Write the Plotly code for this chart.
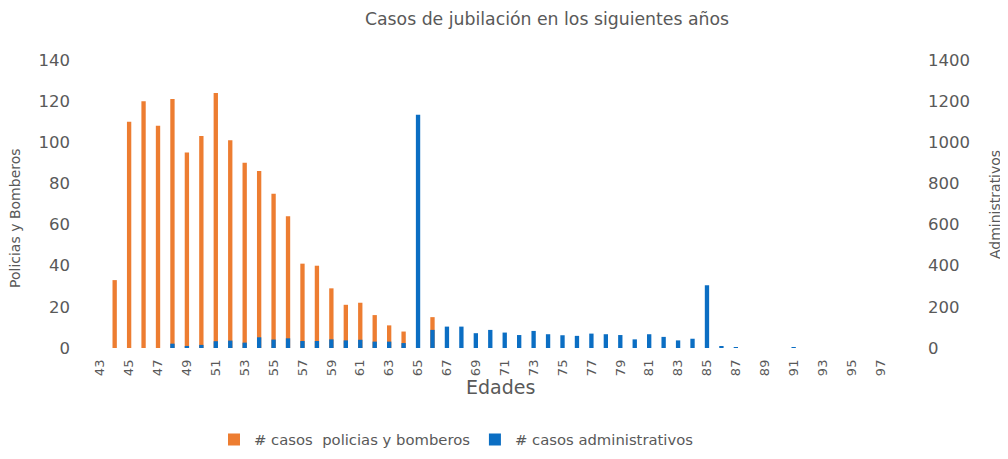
import plotly.graph_objects as go

ages = list(range(43, 99))
policias = [0, 33, 110, 120, 108, 121, 95, 103, 124, 101, 90, 86, 75, 64, 41, 40, 29, 21, 22, 16, 11, 8,
            0, 15] + [0] * 32
administrativos = [0, 0, 0, 0, 0, 21, 10, 15, 33, 36, 26, 52, 41, 47, 34, 34, 42, 37, 40, 31, 31, 24,
                   1134, 88, 104, 104, 72, 88, 75, 63, 83, 67, 62, 59, 70, 67, 63, 42, 67, 54, 37, 45,
                   305, 8, 4, 0, 0, 0, 3, 0, 0, 0, 0, 0, 0, 0]
tick_vals = list(range(43, 98, 2))
left_ticks = list(range(0, 141, 20))
right_ticks = list(range(0, 1401, 200))

ORANGE = "#ED7D31"
BLUE = "#0B6EC3"
GRAY = "#595959"
FONT = "DejaVu Sans"

# window geometry (the page body adds an 8px offset)
W, H = 1008, 459
OFF = 8
L, R, T, B = 93, 106, 60, 111
pw = W - L - R
ph = H - T - B
FW, FH = W - OFF, H - OFF


def px(xp):
    return (xp - L) / pw


def py(yp):
    return (H - B - yp) / ph


fig = go.Figure()
fig.add_trace(go.Bar(x=ages, y=policias, name="# casos \u00a0policias y bomberos",
                     marker=dict(color=ORANGE, line=dict(width=0)), width=0.3, yaxis="y"))
fig.add_trace(go.Bar(x=ages, y=administrativos, name="# casos administrativos",
                     marker=dict(color=BLUE, line=dict(width=0)), width=0.3, yaxis="y2"))

fig.update_layout(
    width=FW, height=FH,
    margin=dict(l=L - OFF, r=R, t=T - OFF, b=B, pad=0, autoexpand=False),
    paper_bgcolor="white", plot_bgcolor="white",
    barmode="overlay",
    font=dict(family=FONT, color=GRAY, size=13),
    title=dict(text="Casos de jubilación en los siguientes años", x=(547 - OFF) / FW, xanchor="center",
               yref="container", y=1 - (19 - OFF) / FH, yanchor="middle",
               font=dict(size=17.3, color=GRAY, family=FONT)),
    xaxis=dict(range=[42.5, 98.5], tickmode="array", tickvals=tick_vals, tickangle=-90,
               showgrid=False, zeroline=False, showline=False, ticks="", automargin=False,
               ticklabelstandoff=8, tickfont=dict(size=13, color=GRAY)),
    yaxis=dict(range=[0, 140], tickmode="array", tickvals=left_ticks, showgrid=False,
               zeroline=False, showline=False, ticks="", ticklabelstandoff=22, automargin=False,
               tickfont=dict(size=16.5, color=GRAY)),
    yaxis2=dict(range=[0, 1400], tickmode="array", tickvals=right_ticks, overlaying="y",
                side="right", showgrid=False, zeroline=False, showline=False, ticks="",
                ticklabelstandoff=25, automargin=False, tickfont=dict(size=16.5, color=GRAY)),
    legend=dict(orientation="h", x=px(214), xanchor="left",
                y=py(440), yanchor="middle",
                font=dict(size=14.8, color=GRAY), itemwidth=30, traceorder="normal"),
    showlegend=True,
    annotations=[
        dict(text="Edades", xref="paper", yref="paper", x=px(500), y=py(387),
             xanchor="center", yanchor="middle", showarrow=False,
             font=dict(size=19, color=GRAY)),
        dict(text="Policias y Bomberos", textangle=-90, xref="paper", yref="paper",
             x=px(15), y=py(218), xanchor="center", yanchor="middle",
             showarrow=False, font=dict(size=14, color=GRAY)),
        dict(text="Administrativos", textangle=-90, xref="paper", yref="paper",
             x=px(995), y=py(205), xanchor="center", yanchor="middle",
             showarrow=False, font=dict(size=14, color=GRAY)),
    ],
)

fig.write_html("out.html")
